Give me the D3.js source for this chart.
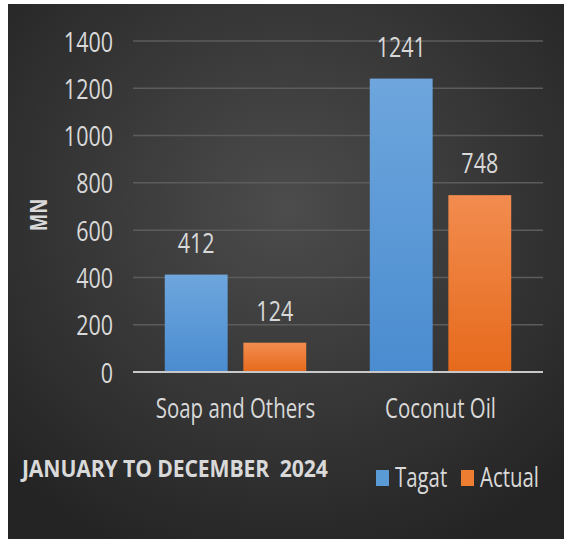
<!DOCTYPE html>
<html><head><meta charset="utf-8">
<script src="https://cdn.jsdelivr.net/npm/d3@7"></script>
<style>html,body{margin:0;padding:0;background:#fff;}svg{display:block;}</style>
</head><body>
<script>
const categories = ["Soap and Others", "Coconut Oil"];
const seriesNames = ["Tagat", "Actual"];
const tagatValues = [412, 1241];
const actualValues = [124, 748];
const yTicks = [0, 200, 400, 600, 800, 1000, 1200, 1400];
const seriesColors = ["#5b9bd5", "#ed7d31"];

const W = 564, H = 539;
const svg = d3.select("body").append("svg").attr("width", W).attr("height", H);
const defs = svg.append("defs");
const bg = defs.append("radialGradient").attr("id","bg").attr("cx","50%").attr("cy","38%").attr("r","70%");
bg.append("stop").attr("offset","0%").attr("stop-color","#4c4c4c");
bg.append("stop").attr("offset","100%").attr("stop-color","#242424");
const gB = defs.append("linearGradient").attr("id","gb").attr("x1",0).attr("y1",0).attr("x2",0).attr("y2",1);
gB.append("stop").attr("offset","0%").attr("stop-color","#6ea6dd");
gB.append("stop").attr("offset","100%").attr("stop-color","#4a8cd0");
const gO = defs.append("linearGradient").attr("id","go").attr("x1",0).attr("y1",0).attr("x2",0).attr("y2",1);
gO.append("stop").attr("offset","0%").attr("stop-color","#f28c4f");
gO.append("stop").attr("offset","100%").attr("stop-color","#e66a1c");
const fills = ["url(#gb)", "url(#go)"];

svg.append("rect").attr("x",8).attr("y",4).attr("width",W-8).attr("height",H-4).attr("fill","url(#bg)");

const font = "'Open Sans',sans-serif";
const txt = "#d9d9d9";
const plotL = 133, plotR = 543, plotT = 41, plotB = 372;
const SY = 1.3;

// helper: stretched text placed at (x, y) baseline
function label(parent, x, y, str, size, anchor, sy, bold) {
  const g = parent.append("g").attr("transform", `translate(${x},${y}) scale(1,${sy})`);
  g.append("text").attr("text-anchor", anchor).attr("fill", txt)
    .style("font-family", font).style("font-size", size + "px")
    .style("font-weight", bold ? "bold" : "normal").style("white-space", "pre").text(str);
  return g;
}

const y = d3.scaleLinear().domain([0,1400]).range([plotB, plotT]);
const x0 = d3.scaleBand().domain(categories).range([plotL, plotR]).paddingInner(0.31).paddingOuter(0.155);
const x1 = d3.scaleBand().domain(seriesNames).range([0, x0.bandwidth()]).paddingInner(0.2);

// gridlines
svg.append("g").selectAll("line").data(yTicks.filter(d=>d>0)).join("line")
  .attr("x1",plotL).attr("x2",plotR).attr("y1",d=>y(d)).attr("y2",d=>y(d))
  .attr("stroke","#5c5c5c").attr("stroke-width",1.5);

// y axis labels
const yAxis = d3.axisLeft(y).tickValues(yTicks).tickFormat(d3.format("d")).tickSize(0).tickPadding(0);
const ya = svg.append("g").attr("transform",`translate(${plotL-20},0)`).call(yAxis);
ya.select(".domain").remove();
ya.selectAll("text").attr("fill",txt).attr("dy","0.36em").attr("transform",`scale(1,${SY})`)
  .style("font-family",font).style("font-size","21.5px");

// bars
const data = categories.map((c,i)=>({cat:c, vals:[tagatValues[i], actualValues[i]]}));
const groups = svg.append("g").selectAll("g").data(data).join("g")
  .attr("transform",d=>`translate(${x0(d.cat)},0)`);
groups.selectAll("rect").data(d=>d.vals.map((v,j)=>({s:seriesNames[j],v,j}))).join("rect")
  .attr("x",d=>x1(d.s)).attr("width",x1.bandwidth())
  .attr("y",d=>y(d.v)).attr("height",d=>plotB-y(d.v))
  .attr("fill",d=>fills[d.j]);
groups.each(function(d){
  const g = d3.select(this);
  d.vals.forEach((v,j)=>{
    label(g, x1(seriesNames[j]) + x1.bandwidth()/2, y(v) - 22, String(v), 21.5, "middle", SY, false);
  });
});

// zero line
svg.append("line").attr("x1",plotL).attr("x2",plotR).attr("y1",y(0)).attr("y2",y(0))
  .attr("stroke","#c8c8c8").attr("stroke-width",2);

// x axis labels
const xAxis = d3.axisBottom(x0).tickSize(0).tickPadding(0);
const xa = svg.append("g").attr("transform",`translate(0,${plotB+46})`).call(xAxis);
xa.select(".domain").remove();
xa.selectAll("text").attr("fill",txt).attr("dy","0").attr("y",0).attr("transform",`scale(1,1.36)`)
  .style("font-family",font).style("font-size","20.4px");

// y axis title
svg.append("g").attr("transform","translate(47,215) rotate(-90) scale(1,1.25)")
  .append("text").attr("text-anchor","middle").attr("fill",txt).style("font-family",font)
  .style("font-size","18.5px").style("font-weight","bold").text("MN");

// footer title
label(svg, 22, 477, "JANUARY TO DECEMBER  2024", 21.2, "start", 1.12, true)
  .select("text").style("letter-spacing","-0.15px");

// legend
const legend = svg.append("g").attr("transform","translate(376,478)");
const legX = [0, 85];
seriesNames.forEach((s,i)=>{
  const g = legend.append("g").attr("transform",`translate(${legX[i]},0)`);
  g.append("rect").attr("x",0).attr("y",-8).attr("width",13).attr("height",16).attr("fill",seriesColors[i]);
  label(g, 19, 9, s, 20.4, "start", 1.3, false);
});
</script>
</body></html>
